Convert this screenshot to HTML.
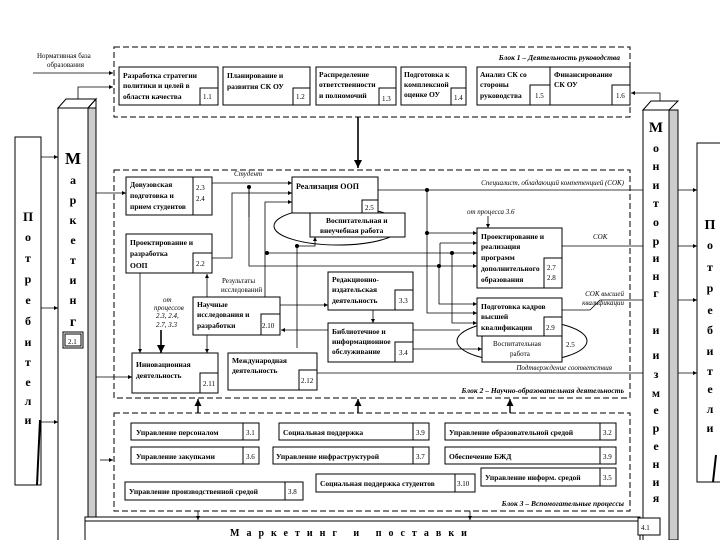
<!DOCTYPE html>
<html><head><meta charset="utf-8"><style>
html,body{margin:0;padding:0;background:#fff;}
svg{display:block;font-family:"Liberation Serif",serif;}
.b{font-weight:bold;font-size:7.5px;}
.n{font-size:7px;}
.i{font-style:italic;font-size:7px;}
.bi{font-style:italic;font-weight:bold;font-size:7.5px;}
.L{font-weight:bold;font-size:12px;text-anchor:middle;}
</style></head><body>
<svg width="720" height="540" viewBox="0 0 720 540" xmlns="http://www.w3.org/2000/svg">
<defs>
<marker id="a" markerWidth="6" markerHeight="6" refX="5" refY="3" orient="auto"><path d="M0,0.5 L5,3 L0,5.5z" fill="#000"/></marker>
</defs>
<g fill="none" stroke="#000" stroke-width="1">
<!-- dashed blocks -->
<rect x="114" y="47" width="516" height="70" stroke-dasharray="6,3"/>
<rect x="114" y="170" width="516" height="228" stroke-dasharray="6,3"/>
<rect x="114" y="413" width="516" height="98" stroke-dasharray="6,3"/>
<!-- left potrebiteli -->
<rect x="15" y="137" width="26" height="348"/>
<line x1="40" y1="420" x2="37" y2="485" stroke-width="2"/>
<!-- marketing column -->
<path d="M58,108 L66,99 L96,99 L88,108z" fill="#fff"/>
<rect x="88" y="108" width="8" height="432" fill="#ccc"/>
<path d="M88,108 L96,99 L96,540"/>
<rect x="58" y="108" width="30" height="440" fill="#fff"/>
<rect x="63" y="332" width="20" height="16"/>
<rect x="65" y="334" width="16" height="12"/>
<!-- monitoring column -->
<path d="M643,110 L651,101 L678,101 L669,110z" fill="#fff"/>
<rect x="669" y="110" width="9" height="430" fill="#ccc"/>
<rect x="643" y="110" width="26" height="440" fill="#fff"/>
<!-- right potrebiteli -->
<rect x="697" y="143" width="30" height="339"/>
<line x1="716" y1="455" x2="713" y2="482" stroke-width="2"/>
<!-- bottom bar -->
<rect x="85" y="517" width="555" height="30" fill="#fff"/>
<line x1="85" y1="521" x2="640" y2="521"/>
<line x1="96" y1="513" x2="96" y2="517"/>
<rect x="638" y="518" width="22" height="17" fill="#fff"/>
</g>
<!-- block 1 boxes -->
<g fill="#fff" stroke="#000">
<rect x="119" y="67" width="99" height="38"/><rect x="200" y="88" width="18" height="17"/>
<rect x="223" y="67" width="87" height="38"/><rect x="293" y="88" width="17" height="17"/>
<rect x="316" y="67" width="80" height="38"/><rect x="379" y="88" width="17" height="17"/>
<rect x="401" y="67" width="65" height="38"/><rect x="451" y="88" width="15" height="17"/>
<rect x="477" y="67" width="73" height="38"/><rect x="530" y="85" width="20" height="20"/>
<rect x="550" y="67" width="80" height="38"/><rect x="612" y="85" width="18" height="20"/>
</g>
<g>
<text class="b" x="123" y="78">Разработка стратегии</text>
<text class="b" x="123" y="88">политики и целей в</text>
<text class="b" x="123" y="99">области качества</text><text class="n" x="203" y="99">1.1</text>
<text class="b" x="227" y="78">Планирование и</text>
<text class="b" x="227" y="89">развития СК ОУ</text><text class="n" x="296" y="99">1.2</text>
<text class="b" x="319" y="77">Распределение</text>
<text class="b" x="319" y="87">ответственности</text>
<text class="b" x="319" y="98">и полномочий</text><text class="n" x="382" y="101">1.3</text>
<text class="b" x="404" y="77">Подготовка к</text>
<text class="b" x="404" y="87">комплексной</text>
<text class="b" x="404" y="97">оценке ОУ</text><text class="n" x="454" y="100">1.4</text>
<text class="b" x="480" y="77">Анализ СК со</text>
<text class="b" x="480" y="87">стороны</text>
<text class="b" x="480" y="98">руководства</text><text class="n" x="535" y="98">1.5</text>
<text class="b" x="554" y="77">Финансирование</text>
<text class="b" x="554" y="87">СК ОУ</text><text class="n" x="616" y="98">1.6</text>
<text class="bi" x="620" y="60" text-anchor="end">Блок 1 – Деятельность руководства</text>
<text class="n" x="37" y="58">Нормативная база</text>
<text class="n" x="47" y="67">образования</text>
</g>
<!-- block 2 boxes -->
<g fill="#fff" stroke="#000">
<rect x="126" y="177" width="86" height="38"/><rect x="193" y="177" width="19" height="38"/>
<ellipse cx="338" cy="226" rx="64" ry="19" fill="none"/>
<rect x="292" y="177" width="86" height="36"/><rect x="362" y="200" width="16" height="13"/>
<rect x="310" y="213" width="95" height="24"/>
<rect x="126" y="234" width="86" height="39"/><rect x="193" y="253" width="19" height="20"/>
<rect x="193" y="297" width="87" height="38"/><rect x="261" y="314" width="19" height="21"/>
<rect x="328" y="272" width="85" height="38"/><rect x="395" y="290" width="18" height="20"/>
<rect x="328" y="323" width="85" height="39"/><rect x="395" y="342" width="18" height="20"/>
<rect x="132" y="353" width="86" height="40"/><rect x="200" y="373" width="18" height="20"/>
<rect x="228" y="353" width="89" height="37"/><rect x="299" y="370" width="18" height="20"/>
<rect x="477" y="228" width="85" height="60"/><rect x="544" y="258" width="18" height="30"/>
<ellipse cx="522" cy="341" rx="65" ry="21" fill="none"/>
<rect x="477" y="298" width="85" height="38"/><rect x="544" y="317" width="18" height="19"/>
<rect x="482" y="336" width="80" height="26"/>
</g>
<g>
<text class="b" x="130" y="187">Довузовская</text>
<text class="b" x="130" y="198">подготовка и</text>
<text class="b" x="130" y="209">прием студентов</text>
<text class="n" x="196" y="190">2.3</text><text class="n" x="196" y="201">2.4</text>
<text class="b" x="296" y="189" style="font-size:8px">Реализация ООП</text><text class="n" x="365" y="210">2.5</text>
<text class="b" x="326" y="223">Воспитательная и</text>
<text class="b" x="320" y="233">внеучебная работа</text>
<text class="b" x="130" y="245">Проектирование и</text>
<text class="b" x="130" y="256">разработка</text>
<text class="b" x="130" y="268">ООП</text><text class="n" x="196" y="266">2.2</text>
<text class="b" x="197" y="307">Научные</text>
<text class="b" x="197" y="317">исследования и</text>
<text class="b" x="197" y="328">разработки</text><text class="n" x="262" y="328">2.10</text>
<text class="b" x="332" y="282">Редакционно-</text>
<text class="b" x="332" y="292">издательская</text>
<text class="b" x="332" y="303">деятельность</text><text class="n" x="399" y="303">3.3</text>
<text class="b" x="332" y="334">Библиотечное и</text>
<text class="b" x="332" y="344">информационное</text>
<text class="b" x="332" y="354">обслуживание</text><text class="n" x="399" y="355">3.4</text>
<text class="b" x="136" y="367">Инновационная</text>
<text class="b" x="136" y="378">деятельность</text><text class="n" x="203" y="386">2.11</text>
<text class="b" x="232" y="363">Международная</text>
<text class="b" x="232" y="373">деятельность</text><text class="n" x="301" y="383">2.12</text>
<text class="b" x="481" y="239">Проектирование и</text>
<text class="b" x="481" y="249">реализация</text>
<text class="b" x="481" y="260">программ</text>
<text class="b" x="481" y="271">дополнительного</text>
<text class="b" x="481" y="282">образования</text>
<text class="n" x="547" y="270">2.7</text><text class="n" x="547" y="280">2.8</text>
<text class="b" x="481" y="309">Подготовка кадров</text>
<text class="b" x="481" y="319">высшей</text>
<text class="b" x="481" y="330">квалификации</text><text class="n" x="546" y="330">2.9</text>
<text class="n" x="493" y="346">Воспитательная</text>
<text class="n" x="510" y="356">работа</text><text class="n" x="566" y="347">2.5</text>
<text class="i" x="234" y="176">Студент</text>
<text class="n" x="222" y="283">Результаты</text>
<text class="n" x="221" y="292">исследований</text>
<text class="i" x="163" y="302">от</text>
<text class="i" x="154" y="310">процессов</text>
<text class="i" x="156" y="318">2.3, 2.4,</text>
<text class="i" x="156" y="327">2.7, 3.3</text>
<text class="i" x="467" y="214">от процесса 3.6</text>
<text class="i" x="624" y="185" text-anchor="end">Специалист, обладающий компетенцией (СОК)</text>
<text class="i" x="593" y="239">СОК</text>
<text class="i" x="624" y="296" text-anchor="end">СОК высшей</text>
<text class="i" x="624" y="305" text-anchor="end">квалификации</text>
<text class="i" x="612" y="370" text-anchor="end">Подтверждение соответствия</text>
<text class="bi" x="624" y="393" text-anchor="end">Блок 2 – Научно-образовательная деятельность</text>
</g>
<!-- block 3 boxes -->
<g fill="#fff" stroke="#000">
<rect x="131" y="423" width="128" height="17"/><rect x="243" y="423" width="16" height="17"/>
<rect x="279" y="423" width="150" height="17"/><rect x="413" y="423" width="16" height="17"/>
<rect x="445" y="423" width="171" height="17"/><rect x="600" y="423" width="16" height="17"/>
<rect x="131" y="447" width="128" height="17"/><rect x="243" y="447" width="16" height="17"/>
<rect x="273" y="447" width="156" height="17"/><rect x="413" y="447" width="16" height="17"/>
<rect x="445" y="447" width="171" height="17"/><rect x="600" y="447" width="16" height="17"/>
<rect x="481" y="468" width="135" height="18"/><rect x="600" y="468" width="16" height="18"/>
<rect x="316" y="474" width="159" height="18"/><rect x="455" y="474" width="20" height="18"/>
<rect x="125" y="482" width="178" height="18"/><rect x="285" y="482" width="18" height="18"/>
</g>
<g>
<text class="b" x="136" y="435">Управление персоналом</text><text class="n" x="246" y="435">3.1</text>
<text class="b" x="283" y="435">Социальная поддержка</text><text class="n" x="416" y="435">3.9</text>
<text class="b" x="449" y="435">Управление образовательной средой</text><text class="n" x="603" y="435">3.2</text>
<text class="b" x="136" y="459">Управление закупками</text><text class="n" x="246" y="459">3.6</text>
<text class="b" x="276" y="459">Управление инфраструктурой</text><text class="n" x="416" y="459">3.7</text>
<text class="b" x="449" y="459">Обеспечение БЖД</text><text class="n" x="603" y="459">3.9</text>
<text class="b" x="485" y="480">Управление информ. средой</text><text class="n" x="603" y="480">3.5</text>
<text class="b" x="320" y="486">Социальная поддержка студентов</text><text class="n" x="457" y="486">3.10</text>
<text class="b" x="129" y="494">Управление производственной средой</text><text class="n" x="288" y="494">3.8</text>
<text class="bi" x="624" y="506" text-anchor="end">Блок 3 – Вспомогательные процессы</text>
<text class="n" x="641" y="530">4.1</text>
<text x="230" y="536" style="font-size:10px;font-weight:bold;letter-spacing:7px">Маркетинг  и  поставки</text>
</g>
<!-- column letters -->
<g class="L">
<text x="28" y="221" style="font-size:13px">П</text>
<text x="28" y="241">о</text><text x="28" y="262">т</text><text x="28" y="283">р</text><text x="28" y="304">е</text><text x="28" y="325">б</text><text x="28" y="346">и</text><text x="28" y="366">т</text><text x="28" y="386">е</text><text x="28" y="405">л</text><text x="28" y="404" dy="0"></text>
<text x="73" y="164" style="font-size:17px">М</text>
<text x="73" y="184">а</text><text x="73" y="204">р</text><text x="73" y="224">к</text><text x="73" y="244">е</text><text x="73" y="264">т</text><text x="73" y="284">и</text><text x="73" y="304">н</text><text x="73" y="326" style="font-size:14px">г</text>
<text x="656" y="132" style="font-size:15px">М</text>
<text x="656" y="152">о</text><text x="656" y="170">н</text><text x="656" y="189">и</text><text x="656" y="207">т</text><text x="656" y="226">о</text><text x="656" y="245">р</text><text x="656" y="262">и</text><text x="656" y="280">н</text><text x="656" y="297">г</text>
<text x="656" y="334">и</text>
<text x="656" y="359">и</text><text x="656" y="378">з</text><text x="656" y="397">м</text><text x="656" y="414">е</text><text x="656" y="432">р</text><text x="656" y="450">е</text><text x="656" y="468">н</text><text x="656" y="486">и</text><text x="656" y="502">я</text>
<text x="710" y="229" style="font-size:14px">П</text>
<text x="710" y="249">о</text><text x="710" y="271">т</text><text x="710" y="292">р</text><text x="710" y="314">е</text><text x="710" y="334">б</text><text x="710" y="355">и</text><text x="710" y="375">т</text><text x="710" y="393">е</text><text x="710" y="413">л</text>
<text x="28" y="403" dx="0"></text>
</g>
<g class="L"><text x="28" y="424" style="font-size:12px">и</text><text x="710" y="432">и</text></g>
<text class="n" x="68" y="344">2.1</text>
<!-- connectors -->
<g fill="none" stroke="#000" stroke-width="0.8" marker-end="url(#a)">
<line x1="33" y1="73" x2="113" y2="73"/>
<polyline points="78,99 78,87 113,87"/>
<polyline points="660,101 660,93 631,93"/>
<line x1="41" y1="157" x2="58" y2="157"/>
<line x1="41" y1="308" x2="58" y2="308"/>
<line x1="41" y1="422" x2="58" y2="422"/>
<line x1="96" y1="193" x2="126" y2="193"/>
<line x1="96" y1="377" x2="132" y2="377"/>
<line x1="100" y1="460" x2="113" y2="460"/>
<line x1="358" y1="117" x2="358" y2="168" stroke-width="1.6"/>
<line x1="198" y1="413" x2="198" y2="399" stroke-width="1.4"/>
<line x1="358" y1="413" x2="358" y2="399" stroke-width="1.4"/>
<line x1="510" y1="413" x2="510" y2="399" stroke-width="1.4"/>
<line x1="198" y1="511" x2="198" y2="520"/>
<line x1="470" y1="511" x2="470" y2="520"/>
<line x1="212" y1="183" x2="292" y2="183"/>
<polyline points="212,258 232,258 232,193 292,193"/>
<polyline points="265,297 265,202 292,202"/>
<polyline points="297,348 297,246 315,246 315,237"/>
<line x1="207" y1="297" x2="207" y2="274"/>
<line x1="207" y1="335" x2="207" y2="353"/>
<line x1="140" y1="273" x2="140" y2="353"/>
<line x1="161" y1="330" x2="161" y2="353" stroke-width="1.6"/>
<line x1="280" y1="305" x2="328" y2="305"/>
<line x1="373" y1="310" x2="373" y2="323"/>
<line x1="328" y1="330" x2="281" y2="330"/>
<line x1="488" y1="216" x2="488" y2="228"/>
<polyline points="427,190 427,233 477,233"/>
<polyline points="427,233 427,313 477,313"/>
<polyline points="267,253 452,253 477,253"/>
<polyline points="249,187 249,266 439,266 439,304 477,304"/>
<polyline points="439,266 477,266"/>
<polyline points="440,243 477,243"/>
<polyline points="452,253 452,323 477,323"/>
<polyline points="413,349 482,349"/>
<line x1="678" y1="190" x2="697" y2="190"/>
<line x1="678" y1="246" x2="697" y2="246"/>
<line x1="678" y1="300" x2="697" y2="300"/>
<line x1="678" y1="373" x2="697" y2="373"/>
</g>
<g fill="none" stroke="#000" stroke-width="0.8">
<line x1="378" y1="190" x2="643" y2="190"/>
<line x1="562" y1="246" x2="643" y2="246"/>
<line x1="562" y1="310" x2="590" y2="310"/>
<polyline points="590,310 600,300 643,300"/>
<line x1="317" y1="373" x2="643" y2="373"/>
<line x1="413" y1="330" x2="460" y2="330"/>
<polyline points="440,243 440,266"/>
<polyline points="249,217 249,187"/>
</g>
<g fill="#000">
<circle cx="249" cy="187" r="2"/><circle cx="267" cy="253" r="2"/><circle cx="297" cy="246" r="2"/>
<circle cx="427" cy="190" r="2"/><circle cx="427" cy="233" r="2"/><circle cx="452" cy="253" r="2"/><circle cx="439" cy="266" r="2"/>
</g>
</svg>
</body></html>
